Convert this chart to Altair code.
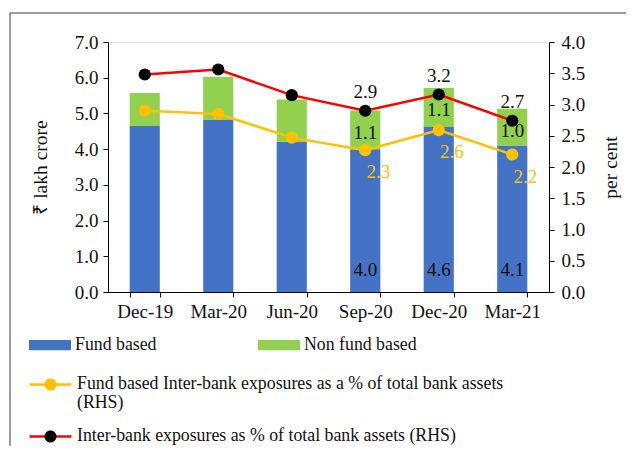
import altair as alt
import pandas as pd

quarters = ["Dec-19", "Mar-20", "Jun-20", "Sep-20", "Dec-20", "Mar-21"]
fund_based = [4.65, 4.83, 4.21, 4.0, 4.62, 4.1]
non_fund_based = [0.92, 1.20, 1.18, 1.08, 1.09, 1.03]
fund_pct = [2.90, 2.85, 2.47, 2.27, 2.59, 2.20]
total_pct = [3.48, 3.56, 3.15, 2.90, 3.16, 2.74]
labelled = [False, False, False, True, True, True]

bar_names = ["Fund based", "Non fund based"]
bar_colors = ["#4472C4", "#92D050"]
line_names = [
    "Fund based Inter-bank exposures as a % of total bank assets (RHS)",
    "Inter-bank exposures as % of total bank assets (RHS)",
]
line_colors = ["#FFC000", "#FF0000"]
marker_colors = ["#FFC000", "#000000"]

FONT = "Liberation Serif"
AX_FS = 19
TI_FS = 19.5
LB_FS = 19
LG_FS = 17.8

bars_df = pd.DataFrame({
    "quarter": quarters * 2,
    "series": [bar_names[0]] * 6 + [bar_names[1]] * 6,
    "value": fund_based + non_fund_based,
    "ord": [0] * 6 + [1] * 6,
})
wide_df = pd.DataFrame({
    "quarter": quarters,
    "fund": fund_based,
    "nonfund": non_fund_based,
    "total": [a + b for a, b in zip(fund_based, non_fund_based)],
    "base": [0.0] * 6,
    "labelled": labelled,
})
lines_df = pd.DataFrame({
    "quarter": quarters * 2,
    "series": [line_names[0]] * 6 + [line_names[1]] * 6,
    "value": fund_pct + total_pct,
    "labelled": labelled * 2,
})

x_enc = alt.X(
    "quarter:N",
    sort=quarters,
    scale=alt.Scale(domain=quarters, paddingInner=0.59, paddingOuter=0.295),
    axis=alt.Axis(title=None, labelAngle=0, tickBand="extent", labelPadding=5,
                  tickSize=5, domainColor="black", tickColor="black",
                  labelColor="#111", labelFontSize=AX_FS, labelFont=FONT),
)

left_scale = alt.Scale(domain=[0, 7], nice=False)
left_axis = alt.Axis(values=[0, 1, 2, 3, 4, 5, 6, 7], format=".1f", grid=False,
                     tickSize=5, domainColor="black", tickColor="black", labelPadding=5,
                     labelColor="#111", labelFontSize=AX_FS, labelFont=FONT,
                     titleFont=FONT, titleFontSize=TI_FS, titleFontWeight="normal",
                     titleColor="#111", titlePadding=24)
right_scale = alt.Scale(domain=[0, 4], nice=False)
right_axis = alt.Axis(values=[0, 0.5, 1, 1.5, 2, 2.5, 3, 3.5, 4], format=".1f", grid=False,
                      orient="right", tickSize=5, domainColor="black", tickColor="black",
                      labelColor="#111", labelFontSize=AX_FS, labelFont=FONT, labelPadding=7,
                      titleFont=FONT, titleFontSize=TI_FS, titleFontWeight="normal",
                      titleColor="#111", titleAngle=270, titlePadding=36)

LTITLE = "₹ lakh crore"
RTITLE = "per cent"

rect_path = "M-1,-0.24L1,-0.24L1,0.24L-1,0.24Z"
# line-legend symbols drawn at size 400 (scale 10 px per unit)
line_path = "M-2.1,1L-0.4,1M0.4,1L2.1,1"
circle_path = "M-0.6,1A0.6,0.6 0 1,0 0.6,1A0.6,0.6 0 1,0 -0.6,1Z"
label_expr = ("indexof(datum.label,'Fund based Inter')==0 ? "
              "['Fund based Inter-bank exposures as a % of total bank assets','(RHS)'] : datum.label")

bars = alt.Chart(bars_df).mark_bar().encode(
    x=x_enc,
    y=alt.Y("value:Q", stack="zero", scale=left_scale, axis=left_axis, title=LTITLE),
    color=alt.Color("series:N", scale=alt.Scale(domain=bar_names, range=bar_colors),
                    legend=alt.Legend(orient="none", legendX=-79, legendY=282, title=None,
                                      direction="horizontal", columns=2, columnPadding=101,
                                      symbolType=rect_path, symbolSize=1764,
                                      symbolStrokeWidth=0, labelFont=FONT,
                                      labelFontSize=LG_FS, labelColor="#111", labelLimit=600)),
    order=alt.Order("ord:Q"),
)

fund_text = alt.Chart(wide_df).transform_filter("datum.labelled").mark_text(
    dy=-22, fontSize=LB_FS, font=FONT, color="#111"
).encode(
    x=x_enc,
    y=alt.Y("base:Q", scale=left_scale, axis=left_axis, title=LTITLE),
    text=alt.Text("fund:Q", format=".1f"),
)

nonfund_text = alt.Chart(wide_df).transform_filter("datum.labelled").mark_text(
    dy=22, fontSize=LB_FS, font=FONT, color="#111"
).encode(
    x=x_enc,
    y=alt.Y("total:Q", scale=left_scale, axis=left_axis, title=LTITLE),
    text=alt.Text("nonfund:Q", format=".1f"),
)

frame = alt.Chart(pd.DataFrame({"k": [0]})).mark_rect(
    fillOpacity=0, stroke="#3a3a3a", strokeWidth=1
).encode(
    x=alt.value(-98), x2=alt.value(800), y=alt.value(-29), y2=alt.value(700)
)

left = alt.layer(frame, bars, fund_text, nonfund_text)

line_legend_common = dict(
    orient="none", legendX=-79, legendY=321, title=None, direction="vertical",
    symbolSize=400, symbolStrokeWidth=2.5, symbolOffset=10, labelOffset=15,
    labelFont=FONT, labelFontSize=LG_FS, labelLimit=600, labelExpr=label_expr,
    labelBaseline="top", rowPadding=2,
)

lines = alt.Chart(lines_df).mark_line(strokeWidth=2.5).encode(
    x=x_enc,
    y=alt.Y("value:Q", scale=right_scale, axis=right_axis, title=RTITLE),
    stroke=alt.Stroke("series:N", scale=alt.Scale(domain=line_names, range=line_colors),
                      legend=alt.Legend(symbolType=line_path, labelColor="#111",
                                        **line_legend_common)),
)

points = alt.Chart(lines_df).mark_point(filled=True, size=150, opacity=1, strokeWidth=0).encode(
    x=x_enc,
    y=alt.Y("value:Q", scale=right_scale, axis=right_axis, title=RTITLE),
    fill=alt.Fill("series:N",
                  scale=alt.Scale(domain=line_names[::-1], range=marker_colors[::-1]),
                  legend=alt.Legend(symbolType=circle_path, values=line_names,
                                    symbolOpacity=1, labelOpacity=0,
                                    **line_legend_common)),
)

red_text = alt.Chart(lines_df).transform_filter(
    alt.FieldEqualPredicate(field="series", equal=line_names[1])
).transform_filter("datum.labelled").mark_text(
    dy=-19, fontSize=LB_FS, font=FONT, color="#111"
).encode(
    x=x_enc,
    y=alt.Y("value:Q", scale=right_scale, axis=right_axis, title=RTITLE),
    text=alt.Text("value:Q", format=".1f"),
)

yellow_text = alt.Chart(lines_df).transform_filter(
    alt.FieldEqualPredicate(field="series", equal=line_names[0])
).transform_filter("datum.labelled").mark_text(
    dx=13, dy=22, fontSize=LB_FS, font=FONT, color="#FFC000"
).encode(
    x=x_enc,
    y=alt.Y("value:Q", scale=right_scale, axis=right_axis, title=RTITLE),
    text=alt.Text("value:Q", format=".1f"),
)

right = alt.layer(lines, points, red_text, yellow_text)

chart = alt.layer(left, right).resolve_scale(
    y="independent", color="independent", fill="independent", stroke="independent"
).properties(
    width=441, height=250,
    autosize=alt.AutoSizeParams(type="none"),
    padding={"left": 100, "top": 34, "right": 77, "bottom": 154},
).configure_view(stroke=None).configure(font=FONT)

chart.save("out.html", embed_options={"renderer": "svg", "actions": False})
